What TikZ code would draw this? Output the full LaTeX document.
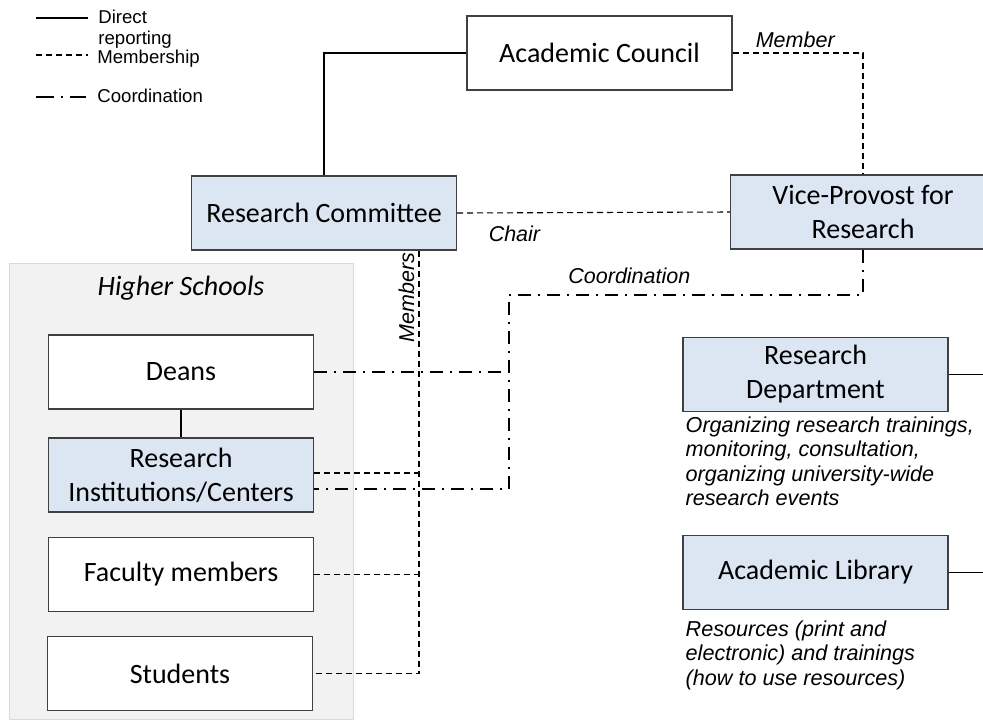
\documentclass[tikz,border=0pt]{standalone}
\usepackage{fontspec}
\setmainfont{Liberation Sans}
\newfontfamily\boxfont{Carlito}
\usetikzlibrary{calc}
\definecolor{boxblue}{HTML}{DCE6F2}
\definecolor{boxline}{HTML}{404040}
\definecolor{panelgray}{HTML}{F2F2F2}
\definecolor{panelline}{HTML}{D9D9D9}

\begin{document}
\begin{tikzpicture}[x=0.5pt,y=-0.5pt,
  unit/.style={draw=boxline,line width=0.7pt,fill=white,minimum width=132.5pt,
    minimum height=37pt,align=center,inner sep=2pt,
    font=\boxfont\fontsize{14}{17}\selectfont},
  office/.style={unit,fill=boxblue},
  report/.style={line width=0.6pt},
  member/.style={line width=0.55pt,dash pattern=on 3pt off 2pt},
  coord/.style={line width=1pt,dash pattern=on 6.5pt off 3.5pt on 1pt off 3.5pt},
  tag/.style={font=\itshape\fontsize{10.75}{12}\selectfont,inner sep=1pt},
  note/.style={font=\itshape\fontsize{10.8}{12.25}\selectfont,align=left,
    inner sep=0pt,anchor=north west},
  key/.style={font=\fontsize{9.3}{10.5}\selectfont,inner sep=0pt,align=left}]

\useasboundingbox (0,0) rectangle (983,720);
\clip (0,0) rectangle (983,720);

% legend
\draw[report] (36,18) -- (88,18);
\node[key,anchor=north west] (kd) at (98,10) {Direct\\reporting};
\draw[member] (36,55) -- (88,55);
\node[key,anchor=base west] (km) at (97,63) {Membership};
\draw[coord,dash pattern=on 9pt off 3.5pt on 1pt off 3.5pt] (36,97) -- (86,97);
\node[key,anchor=base west] (kc) at (97,102) {Coordination};

% higher schools panel
\draw[draw=panelline,fill=panelgray] (9,263) rectangle (353,719);
\node[font=\boxfont\itshape\fontsize{14}{17}\selectfont] (hs) at (181,288) {Higher Schools};

% units
\node[unit] (ac) at (599.5,53) {Academic Council};
\node[office] (rc) at (324,213) {Research Committee};
\node[office] (vp) at (863,212) {Vice-Provost for\\Research};
\node[unit] (dn) at (181,372) {Deans};
\node[office] (ri) at (181,475) {Research\\Institutions/Centers};
\node[unit] (fm) at (181,574.5) {Faculty members};
\node[unit] (st) at (180,673.5) {Students};
\node[office] (rd) at (815.5,374.5) {Research\\Department};
\node[office] (al) at (815.5,572.5) {Academic Library};

\node[note] (rdn) at ([xshift=1.5pt,yshift=-2pt]rd.south west)
  {Organizing research trainings,\\monitoring, consultation,\\organizing university-wide\\research events};
\node[note] (aln) at ([xshift=1.5pt,yshift=-5pt]al.south west)
  {Resources (print and\\electronic) and trainings\\(how to use resources)};

\coordinate (hub) at (509,295);
\coordinate (bus) at (419,0);
\coordinate (rim) at (990,0);

% direct reporting
\draw[report] (ac.west) -| (rc.north);
\draw[report] (dn.south) -- (ri.north);
\draw[report] (rd.east) -- (rd.east -| rim);
\draw[report] (al.east) -- (al.east -| rim);

% membership
\draw[member] (ac.east) -| node[tag,pos=0.24,above=1.5pt]{Member} (vp.north);
\draw[member] (rc.east) -- node[tag,pos=0.21,below=5.5pt]{Chair} (vp.west);
\draw[member] (rc.south -| bus) |- node[tag,pos=0.055,rotate=90,above=1pt]{Members} (st.east);
\draw[member] ([yshift=1pt]ri.east) -- ([yshift=1pt]ri.east -| bus);
\draw[member] (fm.east) -- (fm.east -| bus);

% coordination
\draw[coord] (vp.south) |- node[tag,pos=0.83,above=4pt]{Coordination} (hub)
  |- ([yshift=-7pt]ri.east);
\draw[coord] (dn.east) -- (dn.east -| hub);
\end{tikzpicture}
\end{document}
